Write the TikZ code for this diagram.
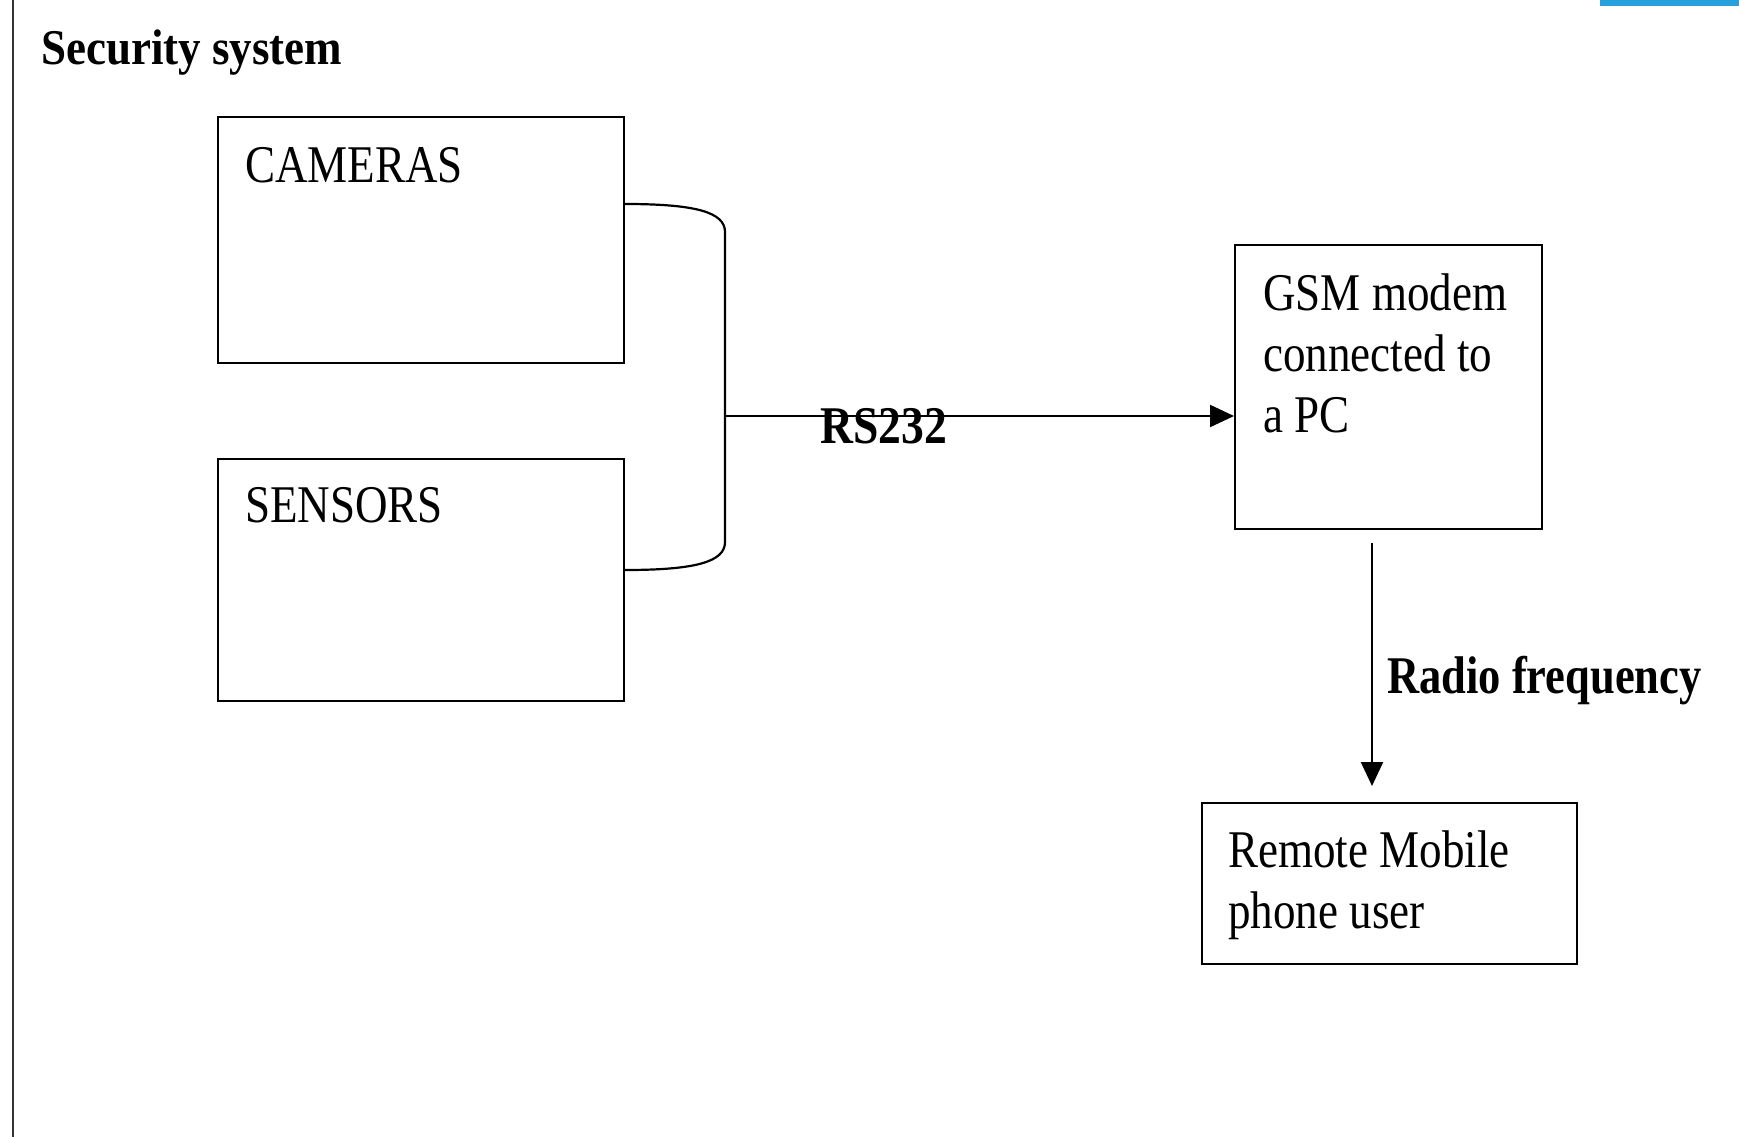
\documentclass[tikz,border=0pt]{standalone}
\usepackage{fontspec}
\usepackage{graphicx}
\setmainfont{Liberation Serif}
\usetikzlibrary{arrows.meta}
\definecolor{barblue}{RGB}{40,160,220}
\newcommand{\sq}[2][0.85]{\scalebox{#1}[1]{#2}}
\tikzset{
  box/.style={draw=black, line width=2.2pt, minimum width=0pt, inner sep=0pt, anchor=north west},
  boxtext/.style={anchor=base west, inner sep=0pt, align=left, font=\fontsize{53}{61}\selectfont},
  boldlabel/.style={anchor=base west, inner sep=0pt, font=\fontsize{53}{61}\selectfont\bfseries},
  conn/.style={draw=black, line width=2.2pt},
  arr/.style={conn, -{Triangle[length=24pt,width=22pt]}}
}
\begin{document}
\begin{tikzpicture}[x=1pt,y=-1pt]
\useasboundingbox (0,0) rectangle (1739,1137);
\fill[white] (0,0) rectangle (1739,1137);
% page decorations
\fill[barblue] (1600,0) rectangle (1739,6);
\draw[line width=2.5pt, black!80] (13,0) -- (13,1137);
% title
\node[anchor=base west, inner sep=0pt, font=\fontsize{50}{58}\selectfont\bfseries] (title) at (41,65) {\sq[0.9]{Security system}};
% boxes
\node[box, minimum width=406pt, minimum height=246pt] (cam) at (217,116) {};
\node[box, minimum width=406pt, minimum height=242pt] (sens) at (217,458) {};
\node[box, minimum width=307pt, minimum height=284pt] (gsm) at (1234,244) {};
\node[box, minimum width=375pt, minimum height=161pt] (rem) at (1201,802) {};
% box texts (base anchor of a multi-line node is the last line's baseline)
\node[boxtext] (camt) at (245,182) {\sq{CAMERAS}};
\node[boxtext] (senst) at (245,522) {\sq{SENSORS}};
\node[boxtext] (gsmt) at (1263,432) {\sq{GSM modem}\\\sq{connected to}\\\sq{a PC}};
\node[boxtext] (remt) at (1228,928) {\sq{Remote Mobile}\\\sq{phone user}};
% bracket connector
\coordinate (b1) at (cam.north east |- 0,204);
\coordinate (b2) at (725,232);
\coordinate (b3) at (725,542);
\coordinate (b4) at (sens.north east |- 0,570);
\coordinate (bm) at (725,416);
\draw[conn] (b1) .. controls (695,204) and (725,212) .. (b2) -- (b3)
  .. controls (725,562) and (695,570) .. (b4);
\draw[arr] (bm) -- (bm -| gsm.west);
\node[boldlabel] (rs) at (820,443) {\sq[0.86]{RS232}};
% radio arrow
\coordinate (r1) at (1372,543);
\draw[arr, shorten >=16pt] (r1) -- (r1 |- rem.north);
\node[boldlabel] (rf) at (1387,693) {\sq[0.84]{Radio frequency}};
\end{tikzpicture}
\end{document}
